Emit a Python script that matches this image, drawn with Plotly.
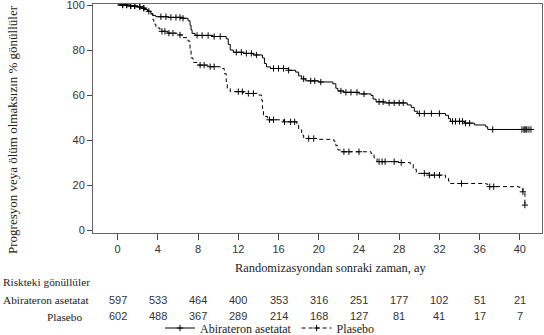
import plotly.graph_objects as go
import numpy as np

# ---------------- data ----------------
abi_t = [0, 1.0, 1.8, 2.3, 2.7, 3.0, 3.3, 3.5, 3.8, 5.0, 6.5, 7.0, 7.2, 7.3, 7.4, 7.7, 9.5, 10.8, 11.0, 11.2,
         11.5, 12.5, 13.5, 14.4, 14.6, 14.8, 15.2, 17.0, 17.7, 18.0, 18.3, 18.7, 20.0, 21.4, 21.7, 21.9, 22.5,
         24.0, 25.2, 25.4, 25.7, 26.5, 28.8, 29.2, 29.5, 29.8, 32.6, 32.9, 33.1, 34.5, 35.5, 36.6, 36.8, 41.1]
abi_s = [100, 99.6, 99.2, 98.6, 98.0, 97.2, 96.2, 95.3, 94.8, 94.5, 94.1, 93.0, 91.0, 89.0, 87.4, 86.5, 86.0,
         85.0, 82.5, 80.0, 79.0, 78.5, 77.8, 76.5, 74.0, 72.5, 71.8, 71.0, 70.2, 68.5, 67.2, 66.3, 65.8, 65.0,
         63.0, 61.8, 61.2, 60.5, 59.8, 58.2, 57.0, 56.5, 55.6, 54.5, 52.8, 51.8, 51.0, 49.5, 48.3, 47.5, 46.7,
         45.9, 44.7, 44.7]
abi_cens = [0.5, 0.9, 1.3, 1.7, 2.2, 2.6, 3.1, 4.3, 4.8, 5.3, 5.8, 6.2, 6.5, 7.9, 8.4, 9.0, 9.6, 10.2, 11.8,
            12.3, 12.8, 13.3, 13.8, 15.5, 16.0, 16.5, 17.0, 18.5, 19.2, 19.6, 20.2, 22.2, 22.7, 23.2, 23.8, 24.5,
            26.0, 26.4, 27.0, 27.5, 28.0, 28.4, 30.0, 30.5, 31.2, 32.0, 33.3, 33.6, 34.0, 34.3, 34.6, 35.0, 37.3,
            40.2, 40.4, 40.5, 40.6, 40.7, 40.9, 41.1]

pla_t = [0, 1.0, 1.8, 2.3, 2.7, 3.0, 3.3, 3.5, 3.6, 3.8, 4.2, 5.0, 5.9, 6.5, 7.0, 7.2, 7.3, 7.5, 8.0, 9.0,
         10.2, 10.6, 10.8, 10.9, 11.2, 12.5, 13.9, 14.3, 14.4, 14.5, 14.9, 16.5, 17.8, 18.0, 18.3, 18.5, 20.0,
         21.5, 21.7, 21.9, 22.3, 25.2, 25.5, 25.8, 28.0, 29.1, 29.4, 29.7, 31.0, 32.6, 32.9, 33.1, 36.6, 36.8,
         39.9, 40.3, 40.5]
pla_s = [100, 99.6, 99.2, 98.6, 98.0, 97.2, 96.0, 93.5, 91.5, 89.8, 88.3, 87.5, 86.7, 85.5, 84.0, 80.5, 76.5,
         74.5, 73.3, 72.6, 71.8, 69.5, 66.0, 63.0, 61.5, 60.7, 60.0, 57.8, 54.0, 50.5, 49.0, 48.1, 47.4, 44.5,
         42.2, 40.7, 40.3, 39.5, 37.5, 35.6, 34.8, 34.0, 32.0, 30.4, 30.0, 29.3, 27.0, 25.2, 24.4, 23.2, 21.8,
         20.7, 20.5, 19.3, 19.0, 17.0, 11.1]
pla_cens = [0.5, 0.9, 1.3, 1.7, 2.2, 2.6, 4.4, 4.7, 5.1, 5.5, 6.2, 8.2, 8.6, 9.2, 9.6, 12.0, 12.4, 13.0, 13.5,
            15.1, 15.5, 16.6, 17.2, 17.6, 19.0, 19.5, 22.5, 23.0, 24.0, 26.0, 26.3, 26.6, 27.5, 28.2, 30.5, 31.0,
            31.5, 32.0, 34.2, 37.0, 37.4, 40.3, 40.5]

risk_times = [0, 4, 8, 12, 16, 20, 24, 28, 32, 36, 40]
abi_risk = [597, 533, 464, 400, 353, 316, 251, 177, 102, 51, 21]
pla_risk = [602, 488, 367, 289, 214, 168, 127, 81, 41, 17, 7]

x_ticks = [0, 4, 8, 12, 16, 20, 24, 28, 32, 36, 40]
y_ticks = [0, 20, 40, 60, 80, 100]
y_tick_text = ["0", "20", "40", "60", "80", "100"]

names = ["Abirateron asetatat", "Plasebo"]


def step_lookup(t_arr, s_arr, times):
    t_arr = np.asarray(t_arr)
    s_arr = np.asarray(s_arr)
    idx = np.searchsorted(t_arr, times, side="right") - 1
    idx = np.clip(idx, 0, len(s_arr) - 1)
    return s_arr[idx]


# ---------------- figure ----------------
W, H = 544, 335
L, R, T, B = 93, 2, 4, 102
pw, ph = W - L - R, H - T - B

def px_x(px):
    return (px - L) / pw

def px_y(py):
    return (H - B - py) / ph

fig = go.Figure()
serif = "Liberation Serif, Times New Roman, serif"
sans = "Liberation Sans, Arial, sans-serif"
DASH = "4px,3px"

for t, s, c, dash in [(abi_t, abi_s, abi_cens, "solid"), (pla_t, pla_s, pla_cens, DASH)]:
    fig.add_trace(go.Scatter(x=t, y=s, mode="lines", line=dict(color="black", width=1, shape="hv", dash=dash),
                             showlegend=False, hoverinfo="skip"))
    fig.add_trace(go.Scatter(x=c, y=step_lookup(t, s, c), mode="markers",
                             marker=dict(symbol="cross-thin", size=4.5, line=dict(color="black", width=1)),
                             showlegend=False, hoverinfo="skip"))

for name, dash in zip(names, ["solid", DASH]):
    fig.add_trace(go.Scatter(x=[None], y=[None], mode="lines+markers", name=name,
                             line=dict(color="black", width=1, dash=dash),
                             marker=dict(symbol="cross-thin", size=4.5, line=dict(color="black", width=1))))

fig.update_layout(
    width=W, height=H,
    margin=dict(l=L, r=R, t=T, b=B, autoexpand=False),
    paper_bgcolor="white", plot_bgcolor="white",
    font=dict(family=sans, size=11, color="#222"),
    legend=dict(orientation="h", x=px_x(160), y=px_y(328), xanchor="left", yanchor="middle",
                font=dict(family=serif, size=12, color="#222"), bgcolor="rgba(0,0,0,0)",
                itemwidth=30, tracegroupgap=0),
    xaxis=dict(range=[-2.45, 42.2], tickmode="array", tickvals=x_ticks, ticks="outside", ticklen=6,
               tickcolor="#444", showgrid=False, zeroline=False, showline=True, linecolor="#666", linewidth=1,
               mirror=True, tickfont=dict(family=sans, size=11, color="#333"), automargin=False),
    yaxis=dict(range=[-1.3, 100.45], tickmode="array", tickvals=y_ticks, ticktext=y_tick_text,
               ticks="outside", ticklen=5, tickcolor="#444", showticklabels=True,
               showgrid=False, zeroline=False, showline=True, linecolor="#666", linewidth=1, mirror=True,
               tickfont=dict(family=sans, size=11, color="#333"), automargin=False,
               ticklabelposition="outside", ticklabeloverflow="allow"),
)

ann = []
ann.append(dict(text="Randomizasyondan sonraki zaman, ay", xref="paper", yref="paper",
                x=px_x(330), y=px_y(268), xanchor="center", yanchor="middle", showarrow=False,
                font=dict(family=serif, size=12.4, color="#222")))
ann.append(dict(text="Progresyon veya ölüm olmaksızın % gönüllüler", xref="paper", yref="paper",
                x=px_x(12), y=px_y(130), xanchor="center", yanchor="middle", textangle=-90, showarrow=False,
                font=dict(family=serif, size=13, color="#222")))
ann.append(dict(text="Riskteki gönüllüler", xref="paper", yref="paper", x=px_x(1), y=px_y(282),
                xanchor="left", yanchor="middle", showarrow=False, font=dict(family=serif, size=11.3, color="#222")))
ann.append(dict(text="Abirateron asetatat", xref="paper", yref="paper", x=px_x(1), y=px_y(300),
                xanchor="left", yanchor="middle", showarrow=False, font=dict(family=serif, size=11.3, color="#222")))
ann.append(dict(text="Plasebo", xref="paper", yref="paper", x=px_x(84), y=px_y(317),
                xanchor="right", yanchor="middle", showarrow=False, font=dict(family=serif, size=11.3, color="#222")))
for t, a, p in zip(risk_times, abi_risk, pla_risk):
    ann.append(dict(text=str(a), xref="x", yref="paper", x=t, y=px_y(300), xanchor="center", yanchor="middle",
                    showarrow=False, font=dict(family=sans, size=11, color="#333")))
    ann.append(dict(text=str(p), xref="x", yref="paper", x=t, y=px_y(316), xanchor="center", yanchor="middle",
                    showarrow=False, font=dict(family=sans, size=11, color="#333")))
fig.update_layout(annotations=ann)

fig.write_html("out.html")
